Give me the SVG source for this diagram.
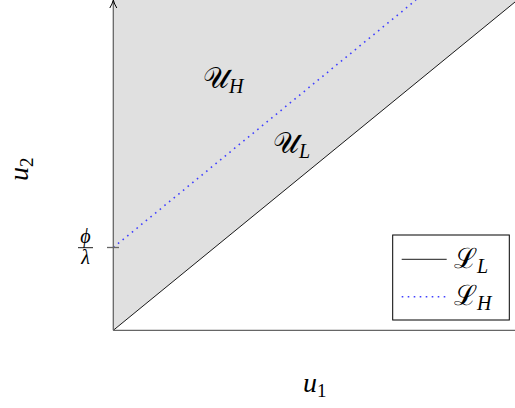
<svg xmlns="http://www.w3.org/2000/svg" width="515" height="408" viewBox="0 0 515 408">
<defs>
<style>
.ax{stroke:#666;stroke-width:1.3;fill:none}
.solid{stroke:#000;stroke-width:0.9;fill:none}
.dot{stroke:#4040ff;stroke-width:1.6;stroke-dasharray:1.6 4.4;fill:none}
.m{font-family:"Liberation Serif","DejaVu Serif",serif;font-style:italic;fill:#000}
.c{font-family:"DejaVu Serif","Liberation Serif",serif;font-style:normal;fill:#000}
.r{font-family:"Liberation Serif","DejaVu Serif",serif;font-style:normal;fill:#000}
</style>
<marker id="arr" markerWidth="10" markerHeight="10" refX="5" refY="1" orient="0" markerUnits="userSpaceOnUse">
<path d="M1.5,8 Q4,4 5,0 Q6,4 8.5,8" fill="none" stroke="#000" stroke-width="1"/>
</marker>
</defs>
<rect width="515" height="408" fill="#fff"/>
<polygon points="113.3,330.3 515,2 515,0 113.3,0" fill="#e0e0e0"/>
<g id="connectors">
<line class="solid" x1="113.3" y1="330.3" x2="515" y2="2"/>
<line class="dot" x1="113.3" y1="247.5" x2="416" y2="0"/>
<line class="ax" x1="113.3" y1="330.3" x2="515" y2="330.3"/>
<line class="ax" x1="113.3" y1="330.3" x2="113.3" y2="1" marker-end="url(#arr)"/>
<line class="ax" x1="107" y1="247.5" x2="119" y2="247.5" stroke-width="1"/>
</g>
<g id="labels">
<text class="m" x="303" y="392" font-size="28">u<tspan class="r" font-size="19" dy="5">1</tspan></text>
<text class="m" transform="translate(28,181) rotate(-90)" font-size="28">u<tspan class="r" font-size="19" dy="5">2</tspan></text>
<text class="m" x="85.5" y="243" font-size="20" text-anchor="middle">ϕ</text>
<line x1="78" y1="247.7" x2="93" y2="247.7" stroke="#000" stroke-width="0.9"/>
<text class="m" x="85.5" y="264" font-size="20" text-anchor="middle">λ</text>
</g>
<g id="UH">
<text class="c" x="203" y="88" font-size="29">𝒰<tspan class="m" font-size="20" dy="5">H</tspan></text>
</g>
<g id="UL">
<text class="c" x="273" y="153" font-size="29">𝒰<tspan class="m" font-size="20" dy="5">L</tspan></text>
</g>
<g id="legend">
<rect x="392.7" y="235" width="116.6" height="85" fill="#fff" stroke="#000" stroke-width="1"/>
<line class="solid" x1="401.7" y1="259.3" x2="446.7" y2="259.3"/>
<line class="dot" x1="401.7" y1="296.7" x2="446.7" y2="296.7"/>
<text class="c" x="454" y="268" font-size="28">ℒ<tspan class="m" font-size="20" dy="5">L</tspan></text>
<text class="c" x="454" y="305" font-size="28">ℒ<tspan class="m" font-size="20" dy="5">H</tspan></text>
</g>
</svg>
